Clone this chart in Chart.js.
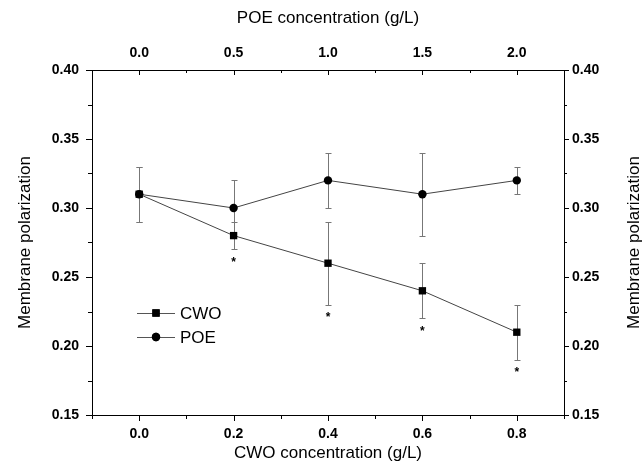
<!DOCTYPE html>
<html>
<head>
<meta charset="utf-8">
<script src="https://cdn.jsdelivr.net/npm/chart.js@4"></script>
<style>
  html, body { margin: 0; padding: 0; background: #fff; }
  #wrap { width: 642px; height: 472px; }
</style>
</head>
<body>
<div id="wrap"><canvas id="c" width="642" height="472"></canvas></div>
<script>
// Werte
const cwoConc = [0.0, 0.2, 0.4, 0.6, 0.8];
const cwoMean = [0.31, 0.28, 0.26, 0.24, 0.21];
const cwoErr  = [0.02, 0.01, 0.03, 0.02, 0.02];
const cwoSig  = [false, true, true, true, true];

const poeConc = [0.0, 0.5, 1.0, 1.5, 2.0];
const poeMean = [0.31, 0.30, 0.32, 0.31, 0.32];
const poeErr  = [0.02, 0.02, 0.02, 0.03, 0.01];

const cwoTickLabels = ['0.0', '0.2', '0.4', '0.6', '0.8'];
const poeTickLabels = ['0.0', '0.5', '1.0', '1.5', '2.0'];
const yTickLabels   = ['0.15', '0.20', '0.25', '0.30', '0.35', '0.40'];

const Y_TITLE = 'Membrane polarization';
const FONT = "'Liberation Sans', Arial, sans-serif";

function pts(xs, ys) { return xs.map((x, i) => ({ x: x, y: ys[i] })); }

// nur Hauptstriche beschriften
function labelFrom(list) {
  return function (v) {
    const s = list.find(t => Math.abs(parseFloat(t) - v) < 1e-6);
    return s || '';
  };
}

// Fehlerbalken hinter den Markern
const errorBars = {
  id: 'errorBars',
  beforeDatasetsDraw(chart) {
    const ctx = chart.ctx;
    const y = chart.scales.y;
    const sets = [
      { sx: chart.scales.x,  xs: cwoConc, m: cwoMean, e: cwoErr },
      { sx: chart.scales.x2, xs: poeConc, m: poeMean, e: poeErr }
    ];
    ctx.save();
    ctx.strokeStyle = '#777';
    ctx.lineWidth = 1;
    sets.forEach(s => {
      s.xs.forEach((xv, i) => {
        const px = Math.round(s.sx.getPixelForValue(xv)) + 0.5;
        const top = Math.round(y.getPixelForValue(s.m[i] + s.e[i])) + 0.5;
        const bot = Math.round(y.getPixelForValue(s.m[i] - s.e[i])) + 0.5;
        ctx.beginPath();
        ctx.moveTo(px, top); ctx.lineTo(px, bot);
        ctx.moveTo(px - 3, top); ctx.lineTo(px + 3, top);
        ctx.moveTo(px - 3, bot); ctx.lineTo(px + 3, bot);
        ctx.stroke();
      });
    });
    ctx.restore();
  }
};

// Sternchen, Achsenstriche, Legende, rechter Achsentitel
const extras = {
  id: 'extras',
  afterDraw(chart) {
    const ctx = chart.ctx;
    const a = chart.chartArea;
    const x = chart.scales.x, x2 = chart.scales.x2, y = chart.scales.y, y2 = chart.scales.y2;
    ctx.save();

    // Signifikanz-Sternchen unter den CWO-Fehlerbalken
    ctx.fillStyle = '#000';
    ctx.font = 'bold 12px ' + FONT;
    ctx.textAlign = 'center';
    ctx.textBaseline = 'middle';
    cwoConc.forEach((xv, i) => {
      if (!cwoSig[i]) return;
      const px = x.getPixelForValue(xv);
      const py = y.getPixelForValue(cwoMean[i] - cwoErr[i]) + 13;
      ctx.fillText('*', px, py);
    });

    // Striche: Haupt 6 px, Neben 4 px
    ctx.strokeStyle = '#000';
    ctx.lineWidth = 1;
    ctx.beginPath();
    x.ticks.forEach(t => {
      const px = Math.round(x.getPixelForValue(t.value)) + 0.5;
      const len = t.label ? 6 : 4;
      ctx.moveTo(px, a.bottom); ctx.lineTo(px, a.bottom + len);
    });
    x2.ticks.forEach(t => {
      const px = Math.round(x2.getPixelForValue(t.value)) + 0.5;
      const len = t.label ? 5 : 3;
      ctx.moveTo(px, a.top); ctx.lineTo(px, a.top + len);
    });
    y.ticks.forEach(t => {
      const py = Math.round(y.getPixelForValue(t.value)) + 0.5;
      const len = t.label ? 6 : 4;
      ctx.moveTo(a.left, py); ctx.lineTo(a.left - len, py);
    });
    y2.ticks.forEach(t => {
      const py = Math.round(y2.getPixelForValue(t.value)) + 0.5;
      const len = t.label ? 5 : 3;
      ctx.moveTo(a.right, py); ctx.lineTo(a.right + len, py);
    });
    ctx.stroke();

    // Legende im Diagramm
    const lx = a.left + 45, ly = a.top + 243;
    const items = [
      { label: 'CWO', style: 'rect', r: 5.2 },
      { label: 'POE', style: 'circle', r: 4.2 }
    ];
    ctx.font = '17px ' + FONT;
    ctx.textAlign = 'left';
    items.forEach((it, k) => {
      const yy = ly + k * 24;
      ctx.strokeStyle = '#555';
      ctx.beginPath();
      ctx.moveTo(lx, yy + 0.5); ctx.lineTo(lx + 38, yy + 0.5);
      ctx.stroke();
      ctx.fillStyle = '#000';
      Chart.helpers.drawPoint(ctx, { pointStyle: it.style, radius: it.r, borderWidth: 0 }, lx + 19, yy);
      ctx.fill();
      ctx.fillText(it.label, lx + 43, yy + 1);
    });

    // rechter Titel, wie links von unten nach oben gelesen
    ctx.translate(634, (a.top + a.bottom) / 2);
    ctx.rotate(-Math.PI / 2);
    ctx.textAlign = 'center';
    ctx.textBaseline = 'middle';
    ctx.fillText(Y_TITLE, 0, 0);
    ctx.restore();
  }
};

const tickFont = { family: FONT, size: 14, weight: 'bold' };
const titleFont = { family: FONT, size: 17 };
const borderCfg = { display: true, color: '#000', width: 1 };

new Chart(document.getElementById('c'), {
  type: 'scatter',
  data: {
    datasets: [
      {
        label: 'CWO',
        data: pts(cwoConc, cwoMean),
        xAxisID: 'x', yAxisID: 'y',
        showLine: true,
        borderColor: '#444', borderWidth: 1,
        pointStyle: 'rect', pointRadius: 5.2, pointHoverRadius: 5.2,
        pointBackgroundColor: '#000', pointBorderWidth: 0
      },
      {
        label: 'POE',
        data: pts(poeConc, poeMean),
        xAxisID: 'x2', yAxisID: 'y',
        showLine: true,
        borderColor: '#444', borderWidth: 1,
        pointStyle: 'circle', pointRadius: 4.2, pointHoverRadius: 4.2,
        pointBackgroundColor: '#000', pointBorderWidth: 0
      }
    ]
  },
  options: {
    responsive: false,
    animation: false,
    layout: { padding: 0 },
    plugins: { legend: { display: false }, tooltip: { enabled: false } },
    scales: {
      x: {
        type: 'linear', position: 'bottom',
        min: -0.1, max: 0.9,
        grid: { display: false, drawTicks: true, tickLength: 6 },
        border: borderCfg,
        ticks: { stepSize: 0.1, autoSkip: false, maxRotation: 0, color: '#000', font: tickFont, padding: 5, callback: labelFrom(cwoTickLabels) },
        title: { display: true, text: 'CWO concentration (g/L)', color: '#000', font: titleFont, padding: { top: 0, bottom: 8 } },
        afterFit: (s) => { s.height = 57; }
      },
      x2: {
        type: 'linear', position: 'top',
        min: -0.25, max: 2.25,
        grid: { display: false, drawTicks: true, tickLength: 6 },
        border: borderCfg,
        ticks: { stepSize: 0.25, autoSkip: false, maxRotation: 0, color: '#000', font: tickFont, padding: 2, callback: labelFrom(poeTickLabels) },
        title: { display: true, text: 'POE concentration (g/L)', color: '#000', font: titleFont, padding: { top: 8, bottom: 0 } },
        afterFit: (s) => { s.height = 70; }
      },
      y: {
        type: 'linear', position: 'left',
        min: 0.15, max: 0.40,
        grid: { display: false, drawTicks: true, tickLength: 6 },
        border: borderCfg,
        ticks: { stepSize: 0.025, autoSkip: false, color: '#000', font: tickFont, padding: 7, callback: labelFrom(yTickLabels) },
        title: { display: true, text: Y_TITLE, color: '#000', font: titleFont, padding: { top: 15, bottom: 0 } },
        afterFit: (s) => { s.width = 92; }
      },
      y2: {
        type: 'linear', position: 'right',
        min: 0.15, max: 0.40,
        grid: { display: false, drawTicks: true, tickLength: 5 },
        border: borderCfg,
        ticks: { stepSize: 0.025, autoSkip: false, color: '#000', font: tickFont, padding: 3, callback: labelFrom(yTickLabels) },
        title: { display: false },
        afterFit: (s) => { s.width = 78; }
      }
    }
  },
  plugins: [errorBars, extras]
});
</script>
</body>
</html>
